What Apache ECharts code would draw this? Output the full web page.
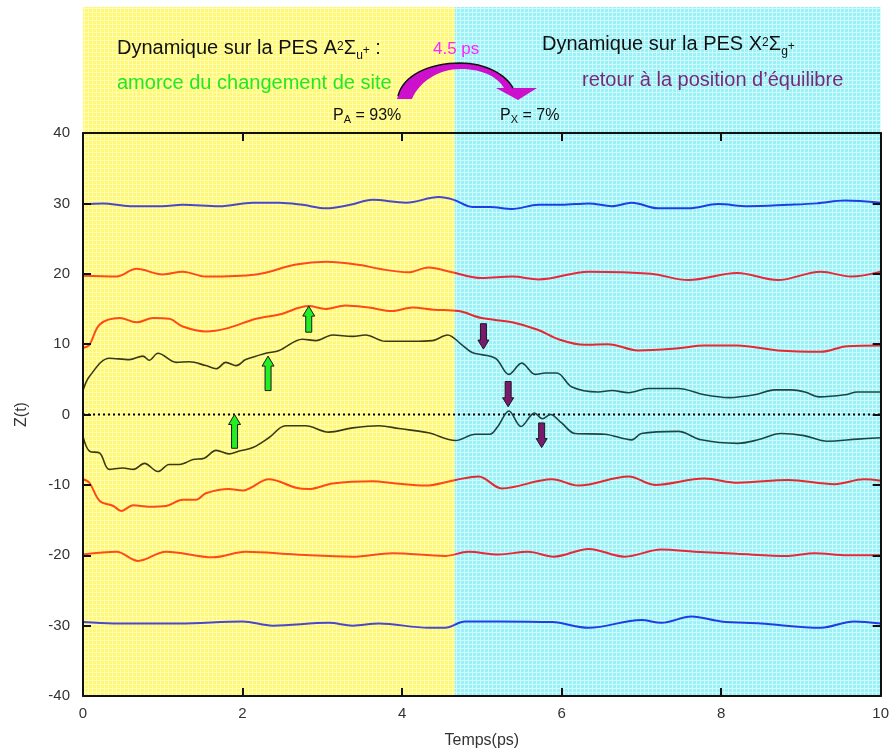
<!DOCTYPE html>
<html><head><meta charset="utf-8">
<script src="https://cdn.jsdelivr.net/npm/echarts@6/dist/echarts.min.js"></script>
<style>html,body{margin:0;padding:0;background:#fff}#chart{width:892px;height:754px}</style>
</head><body><div id="chart"></div>
<script>
// ---- data ----
const xTicks = [0, 2, 4, 6, 8, 10];
const yTicks = [-40, -30, -20, -10, 0, 10, 20, 30, 40];

const tBlueTop = [0,0.25,0.59,0.99,1.25,1.71,2.13,2.46,2.75,3.05,3.35,3.63,4.05,4.46,4.65,4.88,5.1,5.38,5.71,6.0,6.34,6.63,6.88,7.21,7.59,7.96,8.34,8.84,9.2,9.55,10];
const zBlueTop = [29.9,30.0,29.6,29.6,29.8,29.6,30.1,30.1,29.8,29.3,29.8,30.5,30.1,30.9,30.5,29.5,29.5,29.2,29.8,29.8,30.0,29.6,30.1,29.3,29.3,29.9,29.6,29.8,30.0,30.4,30.1];

const tRed20 = [0,0.42,0.67,1.0,1.25,1.54,2.17,2.67,3.05,3.5,3.71,4.08,4.33,4.63,5.0,5.38,5.71,6.34,7.12,7.59,8.2,8.71,9.25,9.63,10];
const zRed20 = [19.7,19.6,20.7,19.9,20.3,19.6,19.9,21.3,21.7,21.2,20.7,20.2,20.9,20.2,19.4,19.6,19.2,20.3,20.0,19.1,20.1,19.1,20.3,19.6,20.3];

const tRed10 = [0,0.08,0.21,0.46,0.67,0.88,1.08,1.25,1.54,1.79,2.17,2.46,2.83,3.04,3.29,3.58,3.88,4.13,4.4,4.71,5.0,5.38,5.71,5.96,6.29,6.58,6.96,7.46,7.79,8.2,8.71,9.25,9.58,10];
const zRed10 = [9.5,9.9,12.8,13.7,13.1,13.7,13.6,12.5,11.8,12.2,13.6,14.2,15.4,15.0,15.5,15.2,14.7,15.2,14.9,14.7,13.7,13.1,12.0,10.7,9.9,10.0,9.1,9.4,9.8,9.8,9.1,8.9,9.7,9.8];

const tDarkUp = [0,0.08,0.33,0.58,0.75,0.83,0.94,1.17,1.33,1.54,1.67,1.79,1.92,2.04,2.29,2.46,2.75,2.92,3.13,3.38,3.54,3.79,4.13,4.38,4.57,4.75,4.88,5.17,5.34,5.5,5.67,5.8,5.94,6.13,6.46,6.63,6.84,7.09,7.46,7.79,8.1,8.42,8.67,8.88,9.05,9.23,9.55,9.71,10];
const zDarkUp = [3.4,5.4,8.0,7.8,8.3,7.7,8.7,7.4,7.5,6.95,6.5,7.4,6.95,7.8,8.7,9.1,10.7,10.5,11.3,11.1,11.3,10.4,10.4,10.5,11.3,9.9,8.8,8.0,5.7,7.3,5.7,5.9,5.9,3.9,3.2,3.4,3.1,3.7,3.7,2.8,2.4,2.8,3.5,3.5,3.2,2.5,2.8,3.2,3.2];

const tDarkLo = [0,0.08,0.21,0.33,0.5,0.63,0.77,0.94,1.08,1.21,1.38,1.52,1.67,1.83,1.96,2.13,2.33,2.54,2.79,3.08,3.38,3.71,3.96,4.33,4.67,4.92,5.1,5.2,5.34,5.49,5.66,5.76,5.86,6.0,6.17,6.54,6.88,7.0,7.46,7.75,8.21,8.46,8.75,9.04,9.33,9.71,10];
const zDarkLo = [-3.1,-5.2,-5.5,-7.8,-7.6,-7.8,-6.95,-8.1,-7.1,-7.1,-6.4,-6.2,-5.1,-5.6,-5.2,-4.7,-3.3,-1.6,-1.6,-2.5,-1.9,-1.6,-2.0,-2.6,-3.7,-2.8,-2.8,-1.7,0.5,-1.7,0.2,-0.6,0.0,-1.2,-2.7,-2.8,-3.6,-2.7,-2.4,-3.6,-4.1,-3.6,-2.7,-3.0,-3.8,-3.5,-3.3];

const tRedM10 = [0,0.08,0.21,0.38,0.48,0.63,0.83,1.04,1.25,1.42,1.54,1.83,2.0,2.33,2.67,2.83,3.13,3.63,3.92,4.29,4.67,4.96,5.25,5.88,6.21,6.84,7.17,7.79,8.21,8.84,9.42,9.79,10];
const zRedM10 = [-9.2,-9.7,-12.3,-13.0,-13.7,-12.9,-13.1,-13.0,-12.1,-12.1,-11.2,-10.6,-10.8,-9.2,-10.4,-10.6,-9.8,-9.5,-9.8,-10.1,-9.3,-8.8,-10.5,-9.2,-10.1,-8.8,-10.0,-9.1,-9.7,-9.3,-9.9,-9.2,-9.4];

const tRedM20 = [0,0.42,0.69,1.04,1.63,2.04,2.67,3.38,3.88,4.54,4.83,5.21,5.58,5.9,6.34,6.79,7.25,7.67,8.2,8.84,9.17,9.58,10];
const zRedM20 = [-19.9,-19.5,-20.8,-19.5,-20.3,-19.5,-19.9,-20.2,-19.7,-20.1,-19.5,-19.9,-19.5,-20.2,-19.1,-20.2,-19.2,-19.5,-19.8,-20.1,-19.7,-20.0,-20.0];

const tBlueBot = [0,0.38,1.21,2.0,2.38,3.08,3.38,3.71,4.33,4.54,4.79,5.21,5.88,6.34,7.0,7.25,7.63,8.0,8.5,9.25,9.67,10];
const zBlueBot = [-29.5,-29.7,-29.7,-29.4,-30.0,-29.6,-30.0,-29.7,-30.3,-30.3,-29.4,-29.4,-29.5,-30.3,-29.2,-29.6,-28.7,-29.4,-29.7,-30.3,-29.4,-29.7];

const zeroLineT = [0, 10];
const zeroLineZ = [0, 0];

// phases: A-state dynamics until the jump at 4.66 ps, then X-state
const phaseStart = [0, 4.66];
const phaseEnd = [4.66, 10];

// arrows: [time, from, to]
const greenArrows = [[1.9, -4.8, 0.0], [2.32, 3.4, 8.3], [2.83, 11.7, 15.4]];
const purpleArrows = [[5.02, 12.9, 9.3], [5.33, 4.7, 1.1], [5.75, -1.2, -4.7]];

// ---- chart ----
const FONT = '"Liberation Sans", Arial, sans-serif';
const SPLIT = phaseEnd[0] / 10;

function makePattern(base, light) {
  const c = document.createElement('canvas');
  c.width = 4; c.height = 4;
  const g = c.getContext('2d');
  g.fillStyle = base; g.fillRect(0, 0, 4, 4);
  g.fillStyle = light; g.fillRect(0, 0, 4, 1); g.fillRect(0, 0, 1, 4);
  return c;
}
const patterns = [
  { image: makePattern('#fff775', '#ffffb4'), repeat: 'repeat' },
  { image: makePattern('#9cf1f6', '#cefbfd'), repeat: 'repeat' }
];

function grad(c1, c2) {
  return { type: 'linear', x: 0, y: 0, x2: 1, y2: 0, colorStops: [
    { offset: 0, color: c1 }, { offset: SPLIT, color: c1 },
    { offset: SPLIT, color: c2 }, { offset: 1, color: c2 }] };
}
function zip(t, z) { return t.map((x, i) => [x, z[i]]); }
function lineSeries(t, z, c1, c2, w) {
  return { type: 'line', data: zip(t, z), symbol: 'none', smooth: 0.35, silent: true, z: 2,
    lineStyle: { width: w, color: grad(c1, c2) } };
}
function arrowSeries(data, fill, w, hw, hl) {
  return { type: 'custom', data: data, z: 6, silent: true, encode: { x: 0, y: [1, 2] },
    renderItem: function (p, api) {
      const a = api.coord([api.value(0), api.value(1)]);
      const b = api.coord([api.value(0), api.value(2)]);
      const dir = b[1] > a[1] ? 1 : -1;
      const x = a[0], hy = b[1] - dir * hl;
      return { type: 'polygon', shape: { points: [[x - w, a[1]], [x - w, hy], [x - hw, hy], [x, b[1]], [x + hw, hy], [x + w, hy], [x + w, a[1]]] },
        style: { fill: fill, stroke: '#1a1a1a', lineWidth: 1 } };
    } };
}

// cubic bezier sampler for the decorative curved "4.5 ps" arrow
function bez(p0, p1, p2, p3, n) {
  const out = [];
  for (let i = 0; i <= n; i++) {
    const t = i / n, u = 1 - t;
    out.push([u*u*u*p0[0] + 3*u*u*t*p1[0] + 3*u*t*t*p2[0] + t*t*t*p3[0],
              u*u*u*p0[1] + 3*u*u*t*p1[1] + 3*u*t*t*p2[1] + t*t*t*p3[1]]);
  }
  return out;
}
const outerEdge = bez([397, 99], [402, 75], [430, 63], [460, 63], 16).concat(bez([460, 63], [486, 63], [506, 75], [513, 88], 16).slice(1));
const innerEdge = bez([504, 88], [498, 78], [484, 69], [461, 69], 16).concat(bez([461, 69], [438, 69], [419, 82], [412, 99], 16).slice(1));
const curvedArrow = outerEdge.concat([[537, 88], [518, 100], [496, 88]]).concat(innerEdge);
const curvedOutline = bez([398, 96], [403, 75], [430, 63], [460, 63], 16).concat(bez([460, 63], [486, 63], [506, 75], [513, 88], 16).slice(1));

const axisLine = { show: true, onZero: false, lineStyle: { color: '#111', width: 2 } };
const axisTick = { show: true, inside: true, length: 8, lineStyle: { color: '#111', width: 2 } };
const labelStyle = { color: '#333', fontSize: 15, fontFamily: FONT };

const titleRich = {
  sup: { fontSize: 12, lineHeight: 12, padding: [0, 0, 2, 0], fontFamily: FONT, fill: '#111' },
  sub: { fontSize: 12, lineHeight: 8, padding: [16, 0, 0, 0], fontFamily: FONT, fill: '#111' },
  sup2: { fontSize: 12, lineHeight: 12, padding: [5, 0, 0, 0], fontFamily: FONT, fill: '#111' }
};
const pRich = { s: { fontSize: 11, lineHeight: 11, padding: [8, 0, 0, 0], fontFamily: FONT, fill: '#111' } };

const option = {
  animation: false,
  backgroundColor: '#ffffff',
  grid: { left: 83, right: 9, top: 133, bottom: 57, containLabel: false },
  xAxis: [
    { type: 'value', min: xTicks[0], max: xTicks[xTicks.length - 1], interval: 2, position: 'bottom', z: 3,
      axisLine: axisLine, axisTick: axisTick, splitLine: { show: false },
      axisLabel: Object.assign({ margin: 10 }, labelStyle),
      name: 'Temps(ps)', nameLocation: 'middle', nameGap: 37,
      nameTextStyle: { color: '#333', fontSize: 16, fontFamily: FONT } },
    { type: 'value', min: xTicks[0], max: xTicks[xTicks.length - 1], interval: 2, position: 'top', z: 3,
      axisLine: axisLine, axisTick: axisTick, splitLine: { show: false }, axisLabel: { show: false } }
  ],
  yAxis: [
    { type: 'value', min: yTicks[0], max: yTicks[yTicks.length - 1], interval: 10, position: 'left', z: 3,
      axisLine: axisLine, axisTick: axisTick, splitLine: { show: false },
      axisLabel: Object.assign({ margin: 13 }, labelStyle),
      name: 'Z(t)', nameLocation: 'middle', nameGap: 53,
      nameTextStyle: { color: '#333', fontSize: 16, fontFamily: FONT } },
    { type: 'value', min: yTicks[0], max: yTicks[yTicks.length - 1], interval: 10, position: 'right', z: 3,
      axisLine: axisLine, axisTick: axisTick, splitLine: { show: false }, axisLabel: { show: false } }
  ],
  series: [
    { type: 'custom', z: 0, silent: true, data: phaseStart.map((s, i) => [s, phaseEnd[i], i]),
      encode: { x: [0, 1] },
      renderItem: function (p, api) {
        const a = api.coord([api.value(0), 40]);
        const b = api.coord([api.value(1), -40]);
        const top = a[1] - 126;
        return { type: 'rect', shape: { x: a[0], y: top, width: b[0] - a[0], height: b[1] - top },
          style: { fill: patterns[api.value(2)] } };
      } },
    { type: 'line', data: zip(zeroLineT, zeroLineZ), symbol: 'none', silent: true, z: 2,
      lineStyle: { color: '#000', width: 2, type: [2, 3] } },
    lineSeries(tBlueTop, zBlueTop, '#4a48c8', '#1e3ee6', 2),
    lineSeries(tRed20, zRed20, '#ff4a1c', '#e6283a', 2),
    lineSeries(tRed10, zRed10, '#ff4a14', '#e42a30', 2),
    lineSeries(tDarkUp, zDarkUp, '#3a3a12', '#1c4646', 1.6),
    lineSeries(tDarkLo, zDarkLo, '#3a3a12', '#1c4646', 1.6),
    lineSeries(tRedM10, zRedM10, '#ff4a14', '#e42a30', 2),
    lineSeries(tRedM20, zRedM20, '#ff4a1c', '#e6283a', 2),
    lineSeries(tBlueBot, zBlueBot, '#4a48c8', '#1e3ee6', 2),
    arrowSeries(greenArrows, '#22ee22', 3, 6, 10),
    arrowSeries(purpleArrows, '#7a1a6e', 3, 5.5, 9)
  ],
  graphic: [
    { type: 'polygon', z: 100, silent: true, shape: { points: curvedArrow },
      style: { fill: '#cc10cc' } },
    { type: 'polyline', z: 101, silent: true, shape: { points: curvedOutline },
      style: { fill: null, stroke: '#111', lineWidth: 1.5 } },
    { type: 'text', left: 117, top: 34, z: 100, silent: true,
      style: { text: 'Dynamique sur la PES A{sup|2}Σ{sub|u}{sup2|+} :', fontSize: 20, lineHeight: 24, fontFamily: FONT, fill: '#111', rich: titleRich } },
    { type: 'text', left: 117, top: 71, z: 100, silent: true,
      style: { text: 'amorce du changement de site', fontSize: 20, lineHeight: 24, fontFamily: FONT, fill: '#22e822' } },
    { type: 'text', left: 433, top: 39, z: 100, silent: true,
      style: { text: '4.5 ps', fontSize: 17, lineHeight: 20, fontFamily: FONT, fill: '#ff22ff' } },
    { type: 'text', left: 333, top: 106, z: 100, silent: true,
      style: { text: 'P{s|A} = 93%', fontSize: 16, lineHeight: 20, fontFamily: FONT, fill: '#111', rich: pRich } },
    { type: 'text', left: 500, top: 106, z: 100, silent: true,
      style: { text: 'P{s|X} = 7%', fontSize: 16, lineHeight: 20, fontFamily: FONT, fill: '#111', rich: pRich } },
    { type: 'text', left: 542, top: 30, z: 100, silent: true,
      style: { text: 'Dynamique sur la PES X{sup|2}Σ{sub|g}{sup2|+}', fontSize: 20, lineHeight: 24, fontFamily: FONT, fill: '#111', rich: titleRich } },
    { type: 'text', left: 582, top: 68, z: 100, silent: true,
      style: { text: 'retour à la position d’équilibre', fontSize: 20, lineHeight: 24, fontFamily: FONT, fill: '#7a2878' } }
  ]
};

const chart = echarts.init(document.getElementById('chart'), null, { renderer: 'canvas' });
chart.setOption(option);
</script></body></html>
